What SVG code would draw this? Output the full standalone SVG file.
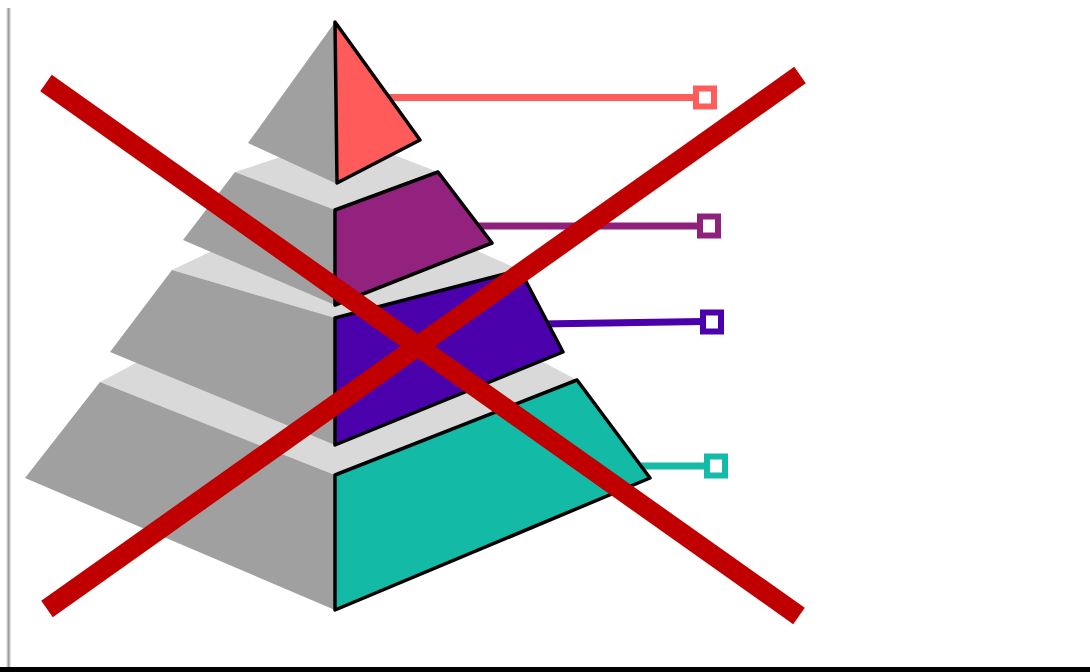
<svg xmlns="http://www.w3.org/2000/svg" width="1090" height="672" viewBox="0 0 1090 672">
  <defs>
    <linearGradient id="shadowL" x1="0" y1="0" x2="1" y2="0">
      <stop offset="0" stop-color="#ffffff"/>
      <stop offset="0.5" stop-color="#9a9a9a"/>
      <stop offset="1" stop-color="#f2f2f2"/>
    </linearGradient>
  </defs>
  <style>
    .side { fill: #a0a0a0; stroke: none; }
    .ledge { fill: #d9d9d9; stroke: none; }
    .face { stroke: #000; stroke-width: 3.5; stroke-linejoin: round; }
    .conn { fill: none; stroke-width: 7; }
    .box { fill: #fff; stroke-width: 6; }
    .cross { stroke: #c00000; stroke-width: 20; stroke-linecap: butt; }
  </style>
  <rect x="0" y="0" width="1090" height="672" fill="#ffffff"/>
  <rect x="6" y="8" width="5" height="660" fill="url(#shadowL)"/>
  <rect x="0" y="667" width="1090" height="5" fill="#000"/>

  <g id="connectors">
    <line class="conn" x1="380" y1="97.5" x2="696" y2="97.5" stroke="#ff5c5c"/>
    <rect class="box" x="696" y="88.5" width="18" height="18" stroke="#ff5c5c"/>
    <line class="conn" x1="470" y1="226" x2="700" y2="226" stroke="#8e217c"/>
    <rect class="box" x="700" y="216.5" width="18" height="19" stroke="#8e217c"/>
    <line class="conn" x1="540" y1="324" x2="703" y2="321.5" stroke="#4a00ab"/>
    <rect class="box" x="703" y="312.5" width="18" height="19" stroke="#4a00ab"/>
    <line class="conn" x1="630" y1="466" x2="707" y2="466" stroke="#13bba8"/>
    <rect class="box" x="707" y="456.5" width="18" height="19" stroke="#13bba8"/>
  </g>

  <g id="tier4">
    <polygon class="ledge" points="100,382 340,255 577,380 335,475"/>
    <polygon class="side" points="100,382 335,475 335,610 25,478"/>
    <polygon class="face" fill="#13bba7" points="335,475 577,380 650,478 335,610"/>
  </g>

  <g id="tier3">
    <polygon class="ledge" points="172,270 340,190 520,270 335,318"/>
    <polygon class="side" points="172,270 335,318 335,445 110,352"/>
    <polygon class="face" fill="#4a00ab" points="335,318 520,270 563,352 335,445"/>
  </g>

  <g id="tier2">
    <polygon class="ledge" points="235,172 345,136 438,172 335,210"/>
    <polygon class="side" points="235,172 335,210 335,305 183,240"/>
    <polygon class="face" fill="#93217e" points="335,210 438,172 492,243 335,305"/>
  </g>

  <g id="tier1">
    <polygon class="side" points="335,22 335,183 248,143"/>
    <polygon class="face" fill="#ff5b5b" points="335,22 420,140 337,183"/>
  </g>

  <g id="cross">
    <line class="cross" x1="46" y1="83" x2="799" y2="616"/>
    <line class="cross" x1="47" y1="609" x2="800" y2="75"/>
  </g>
</svg>
